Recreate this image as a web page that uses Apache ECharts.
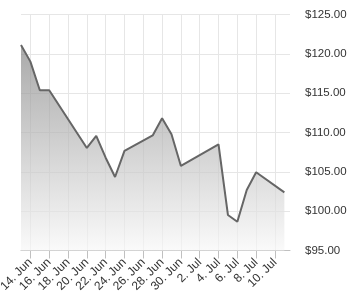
<!DOCTYPE html>
<html><head><meta charset="utf-8">
<script src="https://cdn.jsdelivr.net/npm/echarts@6/dist/echarts.min.js"></script>
<style>html,body{margin:0;padding:0;background:#fff}#c{width:354px;height:300px}</style>
</head><body><div id="c"></div>
<script>
// day numbers: 1 = 1 Jun, 31 = 1 Jul
var days = [13,14,15,16,20,21,22,23,24,27,28,29,30,34,35,36,37,38,41];
var prices = [121.14,119.02,115.38,115.38,108.04,109.57,106.8,104.35,107.66,109.63,111.82,109.78,105.75,108.51,99.52,98.66,102.7,104.95,102.4];
var tickDays = [14,16,18,20,22,24,26,28,30,32,34,36,38,40];
var yTicks = [95,100,105,110,115,120,125];

function dayLabel(d){ return d > 30 ? (d-30)+'. Jul' : d+'. Jun'; }
var data = days.map(function(d,i){ return [d, prices[i]]; });

var chart = echarts.init(document.getElementById('c'));
chart.setOption({
  animation:false,
  grid:{left:21, right:64, top:14.6, bottom:49.5, containLabel:false, outerBoundsMode:'none'},
  xAxis:{
    type:'value', min:13, max:41.6,
    axisLine:{lineStyle:{color:'#c0c0c0'}},
    axisTick:{customValues:tickDays, length:8, lineStyle:{color:'#c0c0c0'}},
    axisLabel:{customValues:tickDays, rotate:45, fontSize:12, color:'#333', fontFamily:'Liberation Sans', margin:10,
      formatter:function(v){return dayLabel(v);}},
    splitLine:{show:true, lineStyle:{color:'#e6e6e6'}}
  },
  yAxis:{
    type:'value', position:'right', min:95, max:125, interval:5,
    axisLine:{show:false}, axisTick:{show:false},
    axisLabel:{fontSize:11.5, color:'#333', fontFamily:'Liberation Sans', margin:15, align:'left',
      formatter:function(v){return '$'+v.toFixed(2);}},
    splitLine:{lineStyle:{color:'#e6e6e6'}}
  },
  series:[{
    type:'line', data:data, showSymbol:false, symbol:'none',
    lineStyle:{color:'#666', width:2},
    areaStyle:{origin:'start', color:new echarts.graphic.LinearGradient(0,0,0,1,[{offset:0,color:'#858585'},{offset:1,color:'#f7f7f7'}])}
  }]
});
</script></body></html>
